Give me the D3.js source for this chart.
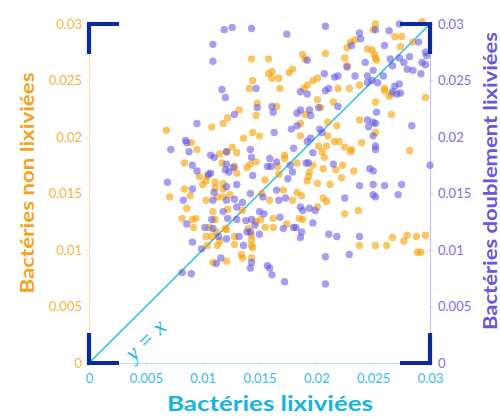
<!DOCTYPE html>
<html><head><meta charset="utf-8">
<script src="https://cdn.jsdelivr.net/npm/d3@7"></script>
<style>
html,body{margin:0;padding:0;background:#fff;}
svg{display:block;}
</style></head>
<body>
<svg id="chart" width="500" height="417"></svg>
<script>
// ---- data ----
const tickValues = [0, 0.005, 0.01, 0.015, 0.02, 0.025, 0.03];
const tickLabels = ["0", "0.005", "0.01", "0.015", "0.02", "0.025", "0.03"];
const xTitle = "Bactéries lixiviées";
const yLeftTitle = "Bactéries non lixiviées";
const yRightTitle = "Bactéries doublement lixiviées";
const identityLine = [[0, 0], [0.03, 0.03]];
const identityLabel = "y = x";

// x = bactéries lixiviées, y = bactéries non lixiviées
const nonLixiviees = [
[0.0143,0.0269],[0.0158,0.0269],[0.0158,0.0256],[0.0161,0.0258],[0.0161,0.0252],[0.0167,0.0252],[0.0176,0.0257],[0.0179,0.0260],[0.0144,0.0250],[0.0141,0.0243],[0.0168,0.0243],[0.0148,0.0230],[0.0165,0.0227],[0.0132,0.0224],
[0.0252,0.0300],[0.0250,0.0295],[0.0293,0.0302],[0.0269,0.0289],[0.0275,0.0289],[0.0285,0.0284],[0.0274,0.0280],[0.0234,0.0286],[0.0230,0.0284],[0.0227,0.0279],[0.0245,0.0278],[0.0249,0.0277],[0.0251,0.0273],[0.0252,0.0270],[0.0253,0.0268],[0.0208,0.0274],[0.0188,0.0273],[0.0190,0.0269],[0.0225,0.0270],[0.0227,0.0263],[0.0201,0.0252],[0.0197,0.0250],[0.0192,0.0246],[0.0189,0.0243],[0.0219,0.0243],[0.0229,0.0243],[0.0238,0.0246],[0.0260,0.0243],[0.0260,0.0241],[0.0264,0.0236],[0.0266,0.0238],[0.0296,0.0235],[0.0201,0.0233],[0.0215,0.0231],[0.0204,0.0226],[0.0252,0.0231],[0.0266,0.0220],
[0.0068,0.0206],[0.0108,0.0209],[0.0118,0.0212],[0.0122,0.0217],[0.0147,0.0219],[0.0144,0.0204],[0.0150,0.0201],[0.0136,0.0199],[0.0090,0.0195],[0.0095,0.0189],[0.0084,0.0177],[0.0115,0.0185],[0.0126,0.0191],[0.0130,0.0186],[0.0121,0.0187],[0.0117,0.0177],[0.0128,0.0174],[0.0130,0.0168],[0.0139,0.0173],[0.0142,0.0176],[0.0147,0.0178],[0.0155,0.0162],[0.0166,0.0174],[0.0172,0.0181],[0.0172,0.0184],[0.0167,0.0167],[0.0097,0.0165],[0.0104,0.0165],[0.0103,0.0161],[0.0071,0.0147],[0.0084,0.0154],[0.0100,0.0158],[0.0111,0.0160],[0.0118,0.0159],[0.0118,0.0154],[0.0111,0.0155],[0.0124,0.0149],[0.0113,0.0147],[0.0118,0.0147],[0.0089,0.0148],[0.0103,0.0144],[0.0152,0.0150],[0.0171,0.0153],[0.0159,0.0144],[0.0086,0.0137],
[0.0238,0.0215],[0.0252,0.0204],[0.0218,0.0210],[0.0210,0.0213],[0.0186,0.0212],[0.0190,0.0220],[0.0186,0.0201],[0.0210,0.0201],[0.0216,0.0196],[0.0220,0.0196],[0.0240,0.0195],[0.0282,0.0188],[0.0225,0.0191],[0.0231,0.0189],[0.0230,0.0187],[0.0202,0.0192],[0.0209,0.0192],[0.0205,0.0187],[0.0207,0.0182],[0.0183,0.0177],[0.0197,0.0175],[0.0223,0.0175],[0.0217,0.0171],[0.0206,0.0172],[0.0233,0.0170],[0.0194,0.0169],[0.0193,0.0165],[0.0192,0.0161],[0.0222,0.0164],[0.0201,0.0159],[0.0212,0.0158],[0.0183,0.0151],[0.0187,0.0148],[0.0206,0.0146],[0.0209,0.0143],[0.0179,0.0144],[0.0201,0.0138],[0.0237,0.0135],
[0.0082,0.0128],[0.0091,0.0127],[0.0094,0.0128],[0.0092,0.0120],[0.0109,0.0134],[0.0122,0.0136],[0.0135,0.0135],[0.0111,0.0127],[0.0106,0.0120],[0.0120,0.0119],[0.0121,0.0118],[0.0112,0.0116],[0.0103,0.0112],[0.0108,0.0112],[0.0115,0.0108],[0.0128,0.0112],[0.0128,0.0105],[0.0143,0.0109],[0.0143,0.0104],[0.0144,0.0102],[0.0143,0.0113],[0.0147,0.0125],[0.0140,0.0119],[0.0151,0.0127],[0.0155,0.0120],[0.0162,0.0120],[0.0162,0.0128],[0.0174,0.0123],[0.0113,0.0104],[0.0104,0.0104],[0.0109,0.0089],[0.0121,0.0090],[0.0134,0.0096],[0.0135,0.0093],[0.0143,0.0093],
[0.0185,0.0128],[0.0188,0.0127],[0.0225,0.0132],[0.0238,0.0104],[0.0252,0.0104],[0.0262,0.0104],[0.0267,0.0111],[0.0277,0.0108],[0.0280,0.0113],[0.0288,0.0112],[0.0296,0.0113],[0.0289,0.0098],[0.0292,0.0098]
];

// x = bactéries lixiviées, y = bactéries doublement lixiviées
const doublementLixiviees = [
[0.0119,0.0295],[0.0126,0.0297],[0.0143,0.0296],[0.0174,0.0291],[0.0109,0.0282],[0.0109,0.0267],[0.0147,0.0243],[0.0117,0.0242],[0.0120,0.0235],[0.0148,0.0226],[0.0161,0.0227],[0.0162,0.0222],[0.0128,0.0220],
[0.0208,0.0298],[0.0252,0.0295],[0.0238,0.0292],[0.0264,0.0294],[0.0273,0.0300],[0.0290,0.0284],[0.0260,0.0281],[0.0239,0.0287],[0.0231,0.0281],[0.0192,0.0268],[0.0243,0.0266],[0.0227,0.0262],[0.0265,0.0269],[0.0273,0.0270],[0.0282,0.0271],[0.0296,0.0275],[0.0297,0.0272],[0.0267,0.0263],[0.0277,0.0266],[0.0280,0.0260],[0.0285,0.0259],[0.0293,0.0266],[0.0296,0.0264],[0.0292,0.0256],[0.0250,0.0259],[0.0259,0.0254],[0.0234,0.0254],[0.0219,0.0254],[0.0216,0.0253],[0.0207,0.0256],[0.0245,0.0254],[0.0249,0.0250],[0.0254,0.0248],[0.0245,0.0248],[0.0211,0.0243],[0.0208,0.0241],[0.0186,0.0240],[0.0192,0.0238],[0.0269,0.0245],[0.0273,0.0247],[0.0267,0.0240],[0.0271,0.0238],[0.0274,0.0239],[0.0202,0.0226],[0.0186,0.0224],[0.0194,0.0224],[0.0219,0.0227],[0.0253,0.0222],[0.0183,0.0221],
[0.0095,0.0212],[0.0163,0.0204],[0.0178,0.0207],[0.0072,0.0189],[0.0085,0.0197],[0.0086,0.0195],[0.0088,0.0187],[0.0107,0.0184],[0.0110,0.0182],[0.0121,0.0187],[0.0142,0.0189],[0.0143,0.0182],[0.0121,0.0176],[0.0127,0.0173],[0.0123,0.0169],[0.0120,0.0171],[0.0144,0.0166],[0.0157,0.0174],[0.0160,0.0174],[0.0159,0.0181],[0.0165,0.0178],[0.0177,0.0175],[0.0175,0.0163],[0.0091,0.0175],[0.0095,0.0170],[0.0105,0.0167],[0.0107,0.0168],[0.0069,0.0160],[0.0091,0.0154],[0.0130,0.0158],[0.0110,0.0151],[0.0121,0.0156],[0.0121,0.0144],[0.0083,0.0144],[0.0109,0.0144],[0.0142,0.0150],[0.0153,0.0147],[0.0165,0.0153],[0.0167,0.0144],[0.0173,0.0146],[0.0135,0.0142],[0.0128,0.0145],[0.0130,0.0138],
[0.0245,0.0215],[0.0250,0.0213],[0.0252,0.0212],[0.0246,0.0209],[0.0250,0.0201],[0.0284,0.0210],[0.0203,0.0207],[0.0205,0.0204],[0.0183,0.0210],[0.0195,0.0219],[0.0252,0.0192],[0.0252,0.0189],[0.0180,0.0190],[0.0195,0.0199],[0.0192,0.0196],[0.0197,0.0186],[0.0191,0.0177],[0.0193,0.0177],[0.0215,0.0176],[0.0247,0.0172],[0.0250,0.0170],[0.0300,0.0175],[0.0179,0.0169],[0.0238,0.0157],[0.0250,0.0158],[0.0260,0.0157],[0.0275,0.0158],[0.0250,0.0149],[0.0252,0.0147],[0.0272,0.0149],[0.0225,0.0146],[0.0186,0.0138],[0.0194,0.0137],
[0.0086,0.0123],[0.0118,0.0134],[0.0108,0.0127],[0.0122,0.0128],[0.0130,0.0127],[0.0102,0.0120],[0.0109,0.0119],[0.0114,0.0112],[0.0121,0.0110],[0.0132,0.0112],[0.0136,0.0104],[0.0142,0.0116],[0.0150,0.0114],[0.0138,0.0126],[0.0143,0.0127],[0.0146,0.0122],[0.0139,0.0116],[0.0150,0.0134],[0.0154,0.0132],[0.0168,0.0129],[0.0171,0.0119],[0.0180,0.0120],[0.0091,0.0107],[0.0099,0.0101],[0.0116,0.0093],[0.0112,0.0088],[0.0143,0.0089],[0.0142,0.0084],[0.0157,0.0086],[0.0159,0.0084],[0.0161,0.0078],[0.0172,0.0072],[0.0082,0.0080],[0.0090,0.0079],
[0.0188,0.0135],[0.0199,0.0135],[0.0182,0.0120],[0.0197,0.0124],[0.0187,0.0116],[0.0186,0.0111],[0.0211,0.0114],[0.0218,0.0112],[0.0238,0.0112],[0.0208,0.0094],[0.0229,0.0096],[0.0208,0.0070]
];

// ---- chart ----
const svg = d3.select("#chart");
const plotL = 89, plotR = 430, plotT = 24, plotB = 363;
const x = d3.scaleLinear().domain([0, 0.03]).range([plotL, plotR]);
const y = d3.scaleLinear().domain([0, 0.03]).range([plotB, plotT]);

const C = {
  orange: "#f5a000", orangeText: "#f5b445", orangeTitle: "#f7a21f", orangeAxis: "#f9e0bd",
  purple: "#5f4fe0", purpleText: "#7c6ee3", purpleTitle: "#6656e0", purpleAxis: "#c8c2f3",
  cyan: "#2ac0e2", cyanText: "#38bde6", cyanTitle: "#17b3e3", cyanAxis: "#b3e4f4",
  bracket: "#0c2a9e"
};
const tickFont = "Lato, 'Open Sans', sans-serif";

function styleAxis(g, lineColor, textColor) {
  g.select(".domain").attr("stroke", lineColor).attr("stroke-width", 1.2);
  g.selectAll(".tick line").attr("stroke", lineColor).attr("stroke-width", 1);
  g.selectAll(".tick text").attr("fill", textColor)
    .style("font-family", tickFont).style("font-size", "13px");
}
const fmt = d => tickLabels[tickValues.indexOf(d)];

const gLeft = svg.append("g").attr("transform", `translate(${plotL},0)`)
  .call(d3.axisLeft(y).tickValues(tickValues).tickFormat(fmt).tickSize(3).tickSizeOuter(0).tickPadding(4));
styleAxis(gLeft, C.orangeAxis, C.orangeText);

const gRight = svg.append("g").attr("transform", `translate(${plotR},0)`)
  .call(d3.axisRight(y).tickValues(tickValues).tickFormat(fmt).tickSize(3).tickSizeOuter(0).tickPadding(5));
styleAxis(gRight, C.purpleAxis, C.purpleText);

const gBottom = svg.append("g").attr("transform", `translate(0,${plotB})`)
  .call(d3.axisBottom(x).tickValues(tickValues).tickFormat(fmt).tickSize(3).tickSizeOuter(0).tickPadding(8));
styleAxis(gBottom, C.cyanAxis, C.cyanText);

// identity line
svg.append("path")
  .attr("d", d3.line().x(d => x(d[0])).y(d => y(d[1]))(identityLine))
  .attr("stroke", C.cyan).attr("stroke-width", 1.6).attr("fill", "none");

// points
svg.append("g").selectAll("circle").data(nonLixiviees).join("circle")
  .attr("cx", d => x(d[0])).attr("cy", d => y(d[1])).attr("r", 3.7)
  .attr("fill", C.orange).attr("fill-opacity", 0.6);
svg.append("g").selectAll("circle").data(doublementLixiviees).join("circle")
  .attr("cx", d => x(d[0])).attr("cy", d => y(d[1])).attr("r", 3.7)
  .attr("fill", C.purple).attr("fill-opacity", 0.55);

// y = x label
const lx = x(0.0051), ly = y(0.0019);
svg.append("text").attr("transform", `translate(${lx},${ly}) rotate(-44.8)`)
  .attr("text-anchor", "middle").attr("dominant-baseline", "middle")
  .attr("fill", C.cyanTitle)
  .style("font-family", "'Liberation Serif', 'DejaVu Serif', serif")
  .style("font-style", "italic").style("font-size", "23px")
  .text(identityLabel);

// corner brackets
const arm = 30;
const brackets = [
  [[plotL + arm, plotT], [plotL, plotT], [plotL, plotT + arm]],
  [[plotR - arm, plotT], [plotR, plotT], [plotR, plotT + arm]],
  [[plotL, plotB - arm], [plotL, plotB], [plotL + arm, plotB]],
  [[plotR - arm, plotB], [plotR, plotB], [plotR, plotB - arm]]
];
svg.append("g").selectAll("path").data(brackets).join("path")
  .attr("d", d => d3.line()(d))
  .attr("fill", "none").attr("stroke", C.bracket).attr("stroke-width", 4.2)
  .attr("stroke-linecap", "butt").attr("stroke-linejoin", "miter");

// titles
const titleFont = "Lato, 'Open Sans', sans-serif";
svg.append("text")
  .attr("transform", `translate(34,183) rotate(-90)`)
  .attr("text-anchor", "middle").attr("fill", C.orangeTitle)
  .style("font-family", titleFont).style("font-weight", "bold").style("font-size", "19.5px")
  .attr("textLength", 221).attr("lengthAdjust", "spacingAndGlyphs")
  .text(yLeftTitle);
svg.append("text")
  .attr("transform", `translate(497,181) rotate(-90)`)
  .attr("text-anchor", "middle").attr("fill", C.purpleTitle)
  .style("font-family", titleFont).style("font-weight", "bold").style("font-size", "19.5px")
  .attr("textLength", 298).attr("lengthAdjust", "spacingAndGlyphs")
  .text(yRightTitle);
svg.append("text")
  .attr("x", 270).attr("y", 411)
  .attr("text-anchor", "middle").attr("fill", C.cyanTitle)
  .style("font-family", titleFont).style("font-weight", "bold").style("font-size", "20.5px")
  .attr("textLength", 206).attr("lengthAdjust", "spacingAndGlyphs")
  .text(xTitle);
</script>
</body></html>
